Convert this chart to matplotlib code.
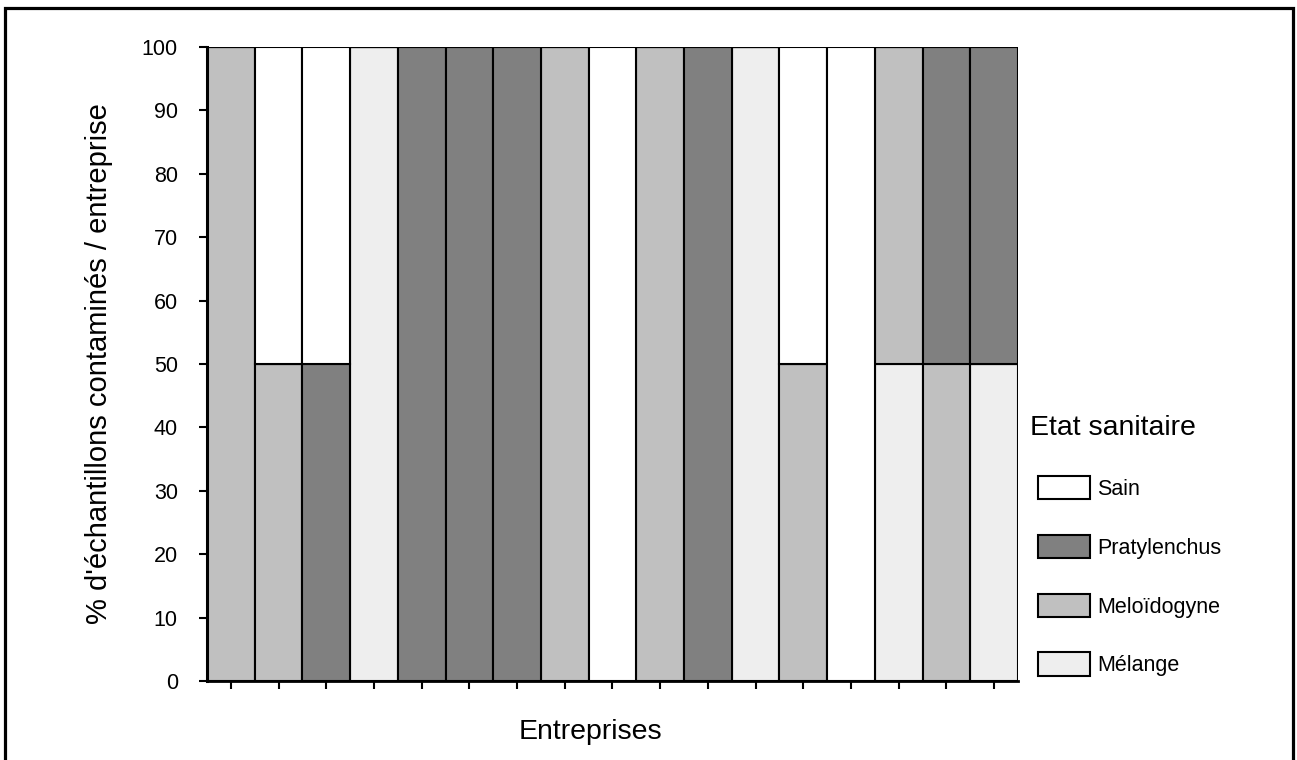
import matplotlib
matplotlib.use("Agg")
import matplotlib.pyplot as plt
from matplotlib.patches import Rectangle
import numpy as np

plt.rcParams['font.family'] = ['Liberation Sans', 'DejaVu Sans']

# Data: % of samples per company, stacked bottom-up
entreprises = list(range(1, 18))
melange      = [0,   0,  0, 100,   0,   0,   0,   0,   0,   0,   0, 100,  0,   0, 50,  0, 50]
meloidogyne  = [100, 50, 0,   0,   0,   0,   0, 100,   0, 100,   0,   0, 50,   0, 50, 50,  0]
pratylenchus = [0,   0, 50,   0, 100, 100, 100,  0,   0,   0, 100,   0,  0,   0,  0, 50, 50]
sain         = [0,  50, 50,   0,   0,   0,   0,   0, 100,  0,   0,   0, 50, 100,  0,  0,  0]

series = [("Mélange", melange, "#eeeeee"),
          ("Meloïdogyne", meloidogyne, "#c0c0c0"),
          ("Pratylenchus", pratylenchus, "#808080"),
          ("Sain", sain, "#ffffff")]

W, H = 1297, 760
fig = plt.figure(figsize=(W / 100, H / 100), dpi=100)
ax = fig.add_axes([207 / W, 1 - 681 / H, 811 / W, 634 / H])

x = np.arange(len(entreprises))
bottom = np.zeros(len(entreprises))
handles = {}
for name, vals, col in series:
    vals = np.array(vals, dtype=float)
    b = ax.bar(x, vals, bottom=bottom, width=1.0, color=col,
               edgecolor="black", linewidth=1.5, label=name, zorder=2)
    handles[name] = b
    bottom += vals

ax.set_xlim(-0.5, len(entreprises) - 0.5)
ax.set_ylim(0, 100)
ax.set_yticks(np.arange(0, 101, 10))
ax.set_xticks(x)
ax.set_xticklabels([])
ax.tick_params(axis='y', direction='out', length=6, width=1.5, labelsize=15.5, pad=15)
ax.tick_params(axis='x', direction='out', length=6, width=1.5)
for s in ['top', 'right']:
    ax.spines[s].set_visible(False)
ax.spines['left'].set_linewidth(2.2)
ax.spines['bottom'].set_linewidth(2.0)
ax.spines['left'].set_zorder(3)
ax.spines['bottom'].set_zorder(3)

ax.set_ylabel("% d'échantillons contaminés / entreprise", fontsize=21, labelpad=21)
fig.text(590 / W, 1 - 732 / H, "Entreprises", fontsize=20.5, ha='center', va='center')

fig.text(1030 / W, 1 - 428 / H, "Etat sanitaire", fontsize=20.5, ha='left', va='center')

order = ["Sain", "Pratylenchus", "Meloïdogyne", "Mélange"]
leg = ax.legend([handles[n] for n in order], order,
                loc='upper left', bbox_to_anchor=(1038 / W, 1 - 476 / H),
                bbox_transform=fig.transFigure, frameon=False,
                fontsize=15.5,
                handlelength=2.4, handleheight=1.3, labelspacing=1.62,
                handletextpad=0.33, borderpad=0, borderaxespad=0)

fig.patches.append(Rectangle((5 / W, -0.05), 1288 / W, 1.05 - 8 / H,
                             transform=fig.transFigure, fill=False,
                             edgecolor='black', linewidth=2.3))

fig.savefig("out.png", dpi=100)
